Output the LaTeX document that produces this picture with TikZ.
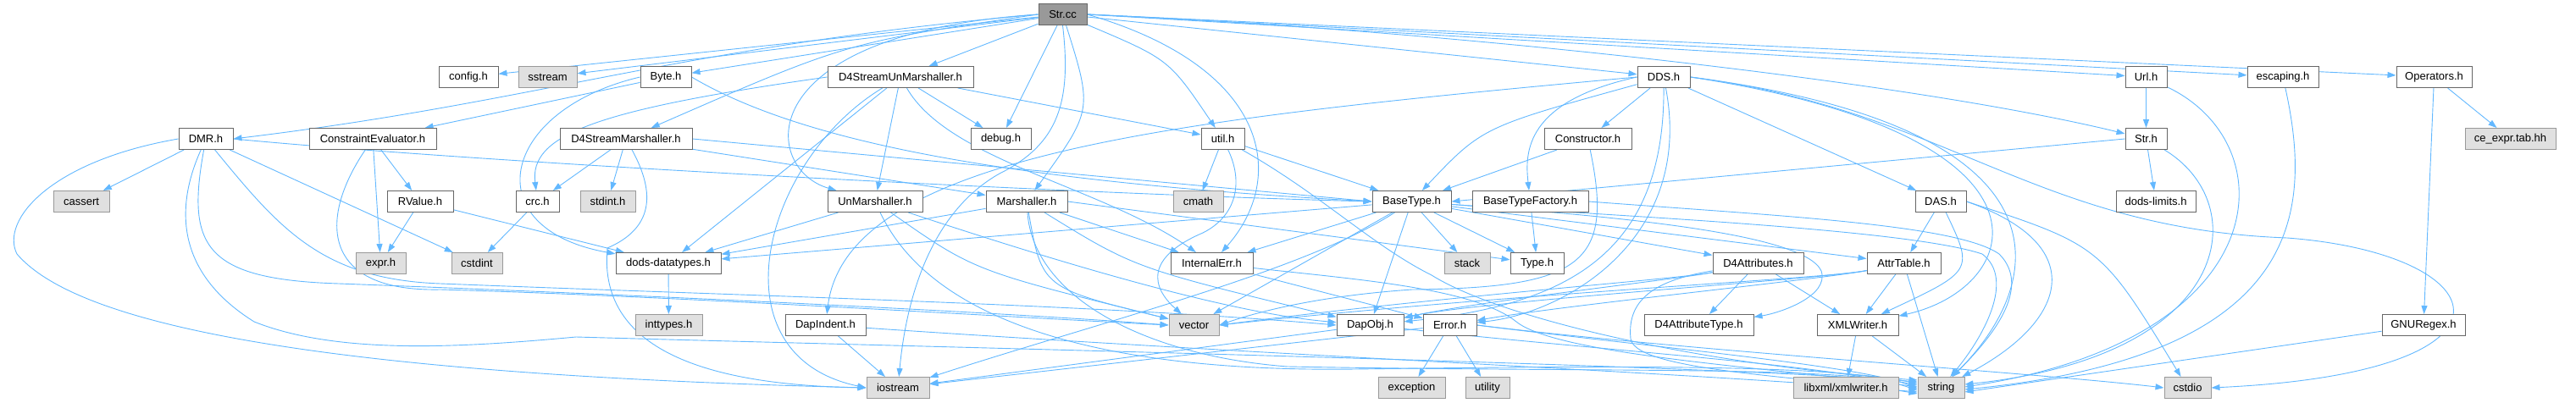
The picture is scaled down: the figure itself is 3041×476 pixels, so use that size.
\documentclass[tikz,border=0pt]{standalone}
\usepackage{fontspec}
\setmainfont{Liberation Sans}
\usetikzlibrary{arrows.meta}
\pgfdeclarelayer{bg}
\pgfsetlayers{bg,main}
\definecolor{edgec}{HTML}{63B8FF}
\definecolor{bdr}{HTML}{666666}
\definecolor{extb}{HTML}{999999}
\definecolor{extf}{HTML}{E0E0E0}
\definecolor{rootf}{HTML}{999999}
\begin{document}
\begin{tikzpicture}[x=1pt,y=1pt,
  nd/.style={draw=bdr, fill=white, line width=1pt, minimum height=25pt, inner sep=0pt, font=\fontsize{13}{15}\selectfont},
  ext/.style={nd, draw=extb, fill=extf},
  rootnd/.style={nd, draw=bdr, fill=rootf},
  e/.style={draw=edgec, line width=0.9pt, -{Triangle[length=10pt,width=7pt]}}]
\useasboundingbox (0,0) rectangle (3041,-476);
% nodes
\node[rootnd,minimum width=57pt] (strcc) at (1254.5,-17) {Str.cc};
\node[nd,minimum width=70pt] (config) at (553,-91) {config.h};
\node[ext,minimum width=69pt] (sstream) at (646.5,-91) {sstream};
\node[nd,minimum width=60pt] (byte) at (786,-91) {Byte.h};
\node[nd,minimum width=172pt] (d4sum) at (1063,-91) {D4StreamUnMarshaller.h};
\node[nd,minimum width=62pt] (dds) at (1964,-91) {DDS.h};
\node[nd,minimum width=49pt] (url) at (2533.5,-91) {Url.h};
\node[nd,minimum width=84pt] (escaping) at (2695,-91) {escaping.h};
\node[nd,minimum width=89pt] (operators) at (2873.5,-91) {Operators.h};
\node[nd,minimum width=64pt] (dmr) at (243,-164) {DMR.h};
\node[nd,minimum width=150pt] (ce) at (440,-164) {ConstraintEvaluator.h};
\node[nd,minimum width=156pt] (d4sm) at (739,-164) {D4StreamMarshaller.h};
\node[nd,minimum width=71pt] (debug) at (1181.5,-164) {debug.h};
\node[nd,minimum width=51pt] (util) at (1443.5,-164) {util.h};
\node[nd,minimum width=103pt] (constructor) at (1874.5,-164) {Constructor.h};
\node[nd,minimum width=49pt] (strh) at (2533.5,-164) {Str.h};
\node[ext,minimum width=107pt] (ceexpr) at (2963.5,-164) {ce\_expr.tab.hh};
\node[ext,minimum width=66pt] (cassert) at (96,-238) {cassert};
\node[nd,minimum width=78pt] (rvalue) at (496,-238) {RValue.h};
\node[nd,minimum width=51pt] (crc) at (634.5,-238) {crc.h};
\node[ext,minimum width=65pt] (stdint) at (717.5,-238) {stdint.h};
\node[nd,minimum width=112pt] (unmarsh) at (1033,-238) {UnMarshaller.h};
\node[nd,minimum width=96pt] (marsh) at (1212,-238) {Marshaller.h};
\node[ext,minimum width=59pt] (cmath) at (1414.5,-238) {cmath};
\node[nd,minimum width=93pt] (basetype) at (1666.5,-238) {BaseType.h};
\node[nd,minimum width=137pt] (btf) at (1806.5,-238) {BaseTypeFactory.h};
\node[nd,minimum width=60pt] (das) at (2291,-238) {DAS.h};
\node[nd,minimum width=94pt] (limits) at (2545,-238) {dods-limits.h};
\node[ext,minimum width=59pt] (expr) at (449.5,-311) {expr.h};
\node[ext,minimum width=60pt] (cstdint) at (563,-311) {cstdint};
\node[nd,minimum width=124pt] (ddt) at (789,-311) {dods-datatypes.h};
\node[nd,minimum width=97pt] (interr) at (1430.5,-311) {InternalErr.h};
\node[ext,minimum width=54pt] (stack) at (1732,-311) {stack};
\node[nd,minimum width=63pt] (type) at (1814.5,-311) {Type.h};
\node[nd,minimum width=107pt] (d4attr) at (2075.5,-311) {D4Attributes.h};
\node[nd,minimum width=87pt] (attrtable) at (2247.5,-311) {AttrTable.h};
\node[ext,minimum width=79pt] (inttypes) at (789.5,-384) {inttypes.h};
\node[nd,minimum width=95pt] (dapindent) at (974.5,-384) {DapIndent.h};
\node[ext,minimum width=59pt] (vector) at (1409.5,-384) {vector};
\node[nd,minimum width=79pt] (dapobj) at (1617.5,-384) {DapObj.h};
\node[nd,minimum width=63pt] (error) at (1711.5,-384) {Error.h};
\node[nd,minimum width=129pt] (d4at) at (2005.5,-384) {D4AttributeType.h};
\node[nd,minimum width=96pt] (xmlw) at (2193,-384) {XMLWriter.h};
\node[nd,minimum width=98pt] (gnuregex) at (2861,-384) {GNURegex.h};
\node[ext,minimum width=74pt] (iostream) at (1060,-458) {iostream};
\node[ext,minimum width=79pt] (exception) at (1666.5,-458) {exception};
\node[ext,minimum width=52pt] (utility) at (1756,-458) {utility};
\node[ext,minimum width=124pt] (libxml) at (2179,-458) {libxml/xmlwriter.h};
\node[ext,minimum width=55pt] (string) at (2291.5,-458) {string};
\node[ext,minimum width=55pt] (cstdio) at (2582.5,-458) {cstdio};
\begin{pgfonlayer}{bg}
% Str.cc
\draw[e] (strcc) -- (config);
\draw[e] (strcc) -- (sstream);
\draw[e] (strcc) -- (byte);
\draw[e] (strcc.west) .. controls (800,-55) and (640,-120) .. (dmr.east);
\draw[e] (strcc.west) .. controls (1000,-50) .. (d4sm);
\draw[e] (strcc) -- (d4sum);
\draw[e] (strcc) -- (debug);
\draw[e] (strcc.south) .. controls (1265,-120) and (1250,-170) .. (1180,-205) .. controls (1100,-250) and (1070,-350) .. (iostream);
\draw[e] (strcc) .. controls (1290,-130) .. (marsh);
\draw[e] (strcc.west) .. controls (880,-40) and (900,-200) .. (unmarsh);
\draw[e] (strcc) .. controls (1380,-70) .. (util);
\draw[e] (strcc.east) .. controls (1500,-80) and (1520,-210) .. (interr);
\draw[e] (strcc) -- (dds);
\draw[e] (strcc.east) -- (url);
\draw[e] (strcc.east) -- (escaping);
\draw[e] (strcc.east) -- (operators);
\draw[e] (strcc.east) .. controls (1700,-35) and (2250,-95) .. (strh);
% Byte.h
\draw[e] (byte) -- (ce);
\draw[e] (byte.west) .. controls (590,-130) and (560,-270) .. (ddt);
\draw[e] (byte.east) .. controls (950,-170) and (1200,-215) .. (basetype.west);
% ConstraintEvaluator.h, RValue.h
\draw[e] (ce) -- (expr);
\draw[e] (ce) -- (rvalue);
\draw[e] (ce) .. controls (375,-260) and (380,-345) .. (520,-342) .. controls (800,-350) and (1200,-375) .. (vector.west);
\draw[e] (rvalue) -- (expr);
\draw[e] (rvalue) -- (ddt);
% DMR.h
\draw[e] (dmr) -- (cassert);
\draw[e] (dmr.east) .. controls (600,-195) and (1300,-230) .. (basetype.west);
\draw[e] (dmr) -- (cstdint);
\draw[e] (dmr.west) .. controls (60,-190) and (0,-260) .. (20,-300) .. controls (80,-370) and (300,-440) .. (iostream.west);
\draw[e] (dmr) .. controls (220,-290) and (240,-330) .. (400,-335) .. controls (800,-350) and (1200,-370) .. (vector.west);
\draw[e] (dmr) .. controls (330,-270) and (380,-330) .. (520,-335) .. controls (900,-350) and (1300,-360) .. (dapobj.west);
\draw[e] (dmr) .. controls (200,-260) and (220,-330) .. (300,-380) .. controls (400,-420) and (550,-410) .. (680,-398) .. controls (1100,-410) and (2000,-430) .. ([yshift=7pt]string.west);
% D4StreamMarshaller.h
\draw[e] (d4sm) -- (crc);
\draw[e] (d4sm) -- (stdint);
\draw[e] (d4sm) .. controls (775,-230) and (770,-270) .. (717,-293) .. controls (705,-420) and (850,-455) .. (iostream.west);
\draw[e] (d4sm) -- (marsh);
\draw[e] (d4sm.east) -- (basetype.west);
% D4StreamUnMarshaller.h
\draw[e] (d4sum.west) .. controls (700,-130) and (625,-160) .. (crc);
\draw[e] (d4sum) -- (ddt);
\draw[e] (d4sum) .. controls (900,-190) and (840,-420) .. (iostream.west);
\draw[e] (d4sum) -- (unmarsh);
\draw[e] (d4sum) -- (debug);
\draw[e] (d4sum) -- (util);
\draw[e] (d4sum) .. controls (1120,-190) and (1300,-220) .. (interr);
\draw[e] (crc) -- (cstdint);
\draw[e] (ddt) -- (inttypes);
% UnMarshaller.h
\draw[e] (unmarsh) -- (ddt);
\draw[e] (unmarsh) .. controls (1150,-320) .. (vector);
\draw[e] (unmarsh) .. controls (1250,-310) and (1450,-370) .. (dapobj);
\draw[e] (unmarsh) .. controls (1100,-380) and (1300,-440) .. (1600,-436) .. controls (1900,-432) and (2150,-430) .. ([yshift=5pt]string.west);
% Marshaller.h
\draw[e] (marsh) -- (ddt);
\draw[e] (marsh) -- (interr);
\draw[e] (marsh) .. controls (1230,-340) .. (vector);
\draw[e] (marsh) .. controls (1340,-317) .. (dapobj);
\draw[e] (marsh) .. controls (1220,-350) and (1350,-420) .. (1520,-433) .. controls (1900,-440) and (2150,-432) .. ([yshift=3pt]string.west);
\draw[e] (marsh.east) -- (type);
% util.h
\draw[e] (util) -- (cmath);
\draw[e] (util) -- (basetype);
\draw[e] (util) .. controls (1468,-215) and (1460,-255) .. (1420,-275) .. controls (1350,-305) and (1360,-340) .. (vector);
\draw[e] (util) .. controls (1560,-230) and (1620,-290) .. (1690,-325) .. controls (1770,-375) and (2000,-430) .. ([yshift=9pt]string.west);
% BaseType.h
\draw[e] (basetype) -- (stack);
\draw[e] (basetype) -- (type);
\draw[e] (basetype) -- (dapobj);
\draw[e] (basetype) -- (vector);
\draw[e] (basetype) .. controls (1540,-320) and (1300,-380) .. (iostream);
\draw[e] (basetype) -- (ddt);
\draw[e] (basetype) -- (interr);
\draw[e] (basetype) -- (d4attr);
\draw[e] (basetype) -- (attrtable);
\draw[e] (basetype) .. controls (1900,-255) and (2130,-275) .. (2150,-320) .. controls (2160,-350) and (2100,-370) .. (d4at);
\draw[e] (basetype) .. controls (1900,-255) and (2250,-270) .. (2340,-300) .. controls (2380,-330) and (2340,-400) .. (string);
% InternalErr.h, Error.h, DapObj.h, DapIndent.h
\draw[e] (interr) -- (error);
\draw[e] (interr) .. controls (1600,-330) and (1740,-340) .. (1790,-380) .. controls (1840,-420) and (2100,-435) .. ([yshift=1pt]string.west);
\draw[e] (error) -- (exception);
\draw[e] (error) -- (utility);
\draw[e] (error) -- (iostream);
\draw[e] (error.east) .. controls (1950,-410) and (2200,-432) .. ([yshift=-1pt]string.west);
\draw[e] (error.east) .. controls (2000,-415) and (2400,-440) .. (cstdio.west);
\draw[e] (dapobj) -- (iostream);
\draw[e] (dapobj) .. controls (1900,-415) and (2180,-432) .. ([yshift=-3pt]string.west);
\draw[e] (dapindent) -- (iostream);
\draw[e] (dapindent) .. controls (1500,-420) and (2000,-440) .. ([yshift=-5pt]string.west);
% DDS.h
\draw[e] (dds) -- (constructor);
\draw[e] (dds) .. controls (1750,-150) .. (basetype);
\draw[e] (dds.west) .. controls (1800,-120) and (1800,-180) .. (btf);
\draw[e] (dds) -- (das);
\draw[e] (dds.west) .. controls (1400,-140) and (1000,-180) .. (dapindent);
\draw[e] (dds) .. controls (1965,-300) and (1850,-360) .. (dapobj);
\draw[e] (dds) .. controls (2000,-280) and (1850,-370) .. (error);
\draw[e] (dds.east) .. controls (2450,-160) and (2390,-340) .. (xmlw);
\draw[e] (dds.east) .. controls (2450,-150) and (2420,-330) .. (string);
\draw[e] (dds.east) .. controls (2300,-130) and (2400,-270) .. (2700,-281) .. controls (2950,-300) and (3000,-440) .. (cstdio.east);
% Constructor.h, BaseTypeFactory.h
\draw[e] (constructor) -- (basetype);
\draw[e] (constructor) .. controls (1905,-310) and (1870,-340) .. (1667,-342) .. controls (1550,-350) and (1480,-370) .. (vector.east);
\draw[e] (btf) -- (type);
\draw[e] (btf.east) .. controls (2100,-255) and (2310,-265) .. (2360,-300) .. controls (2400,-340) and (2350,-400) .. (string);
% DAS.h
\draw[e] (das) -- (attrtable);
\draw[e] (das) .. controls (2330,-320) .. (xmlw);
\draw[e] (das.east) .. controls (2470,-290) and (2440,-380) .. (string);
\draw[e] (das.east) .. controls (2480,-290) .. (cstdio);
% D4Attributes.h, AttrTable.h, XMLWriter.h
\draw[e] (d4attr) -- (d4at);
\draw[e] (d4attr) -- (xmlw);
\draw[e] (d4attr) .. controls (1960,-330) and (1920,-350) .. (1925,-400) .. controls (1930,-440) and (2150,-445) .. ([yshift=-7pt]string.west);
\draw[e] (d4attr) .. controls (1980,-330) and (1750,-355) .. (dapobj);
\draw[e] (d4attr) .. controls (1980,-330) and (1700,-350) .. (vector.east);
\draw[e] (attrtable) -- (xmlw);
\draw[e] (attrtable) -- (string);
\draw[e] (attrtable) .. controls (2150,-330) and (1800,-345) .. (vector.east);
\draw[e] (attrtable) .. controls (2150,-330) and (1750,-355) .. (dapobj);
\draw[e] (attrtable) .. controls (2150,-330) and (1850,-360) .. (error);
\draw[e] (xmlw) -- (libxml);
\draw[e] (xmlw) -- (string);
% Str.h, Url.h, escaping.h, Operators.h, GNURegex.h
\draw[e] (strh) -- (limits);
\draw[e] (strh.west) -- (basetype.east);
\draw[e] (strh) .. controls (2660,-240) and (2640,-420) .. ([yshift=4pt]string.east);
\draw[e] (url) .. controls (2700,-170) and (2690,-400) .. ([yshift=1pt]string.east);
\draw[e] (url) -- (strh);
\draw[e] (escaping) .. controls (2730,-250) and (2720,-420) .. ([yshift=-2pt]string.east);
\draw[e] (operators) -- (ceexpr);
\draw[e] (operators) -- (gnuregex);
\draw[e] (gnuregex) -- ([yshift=-5pt]string.east);
\end{pgfonlayer}
\end{tikzpicture}
\end{document}
